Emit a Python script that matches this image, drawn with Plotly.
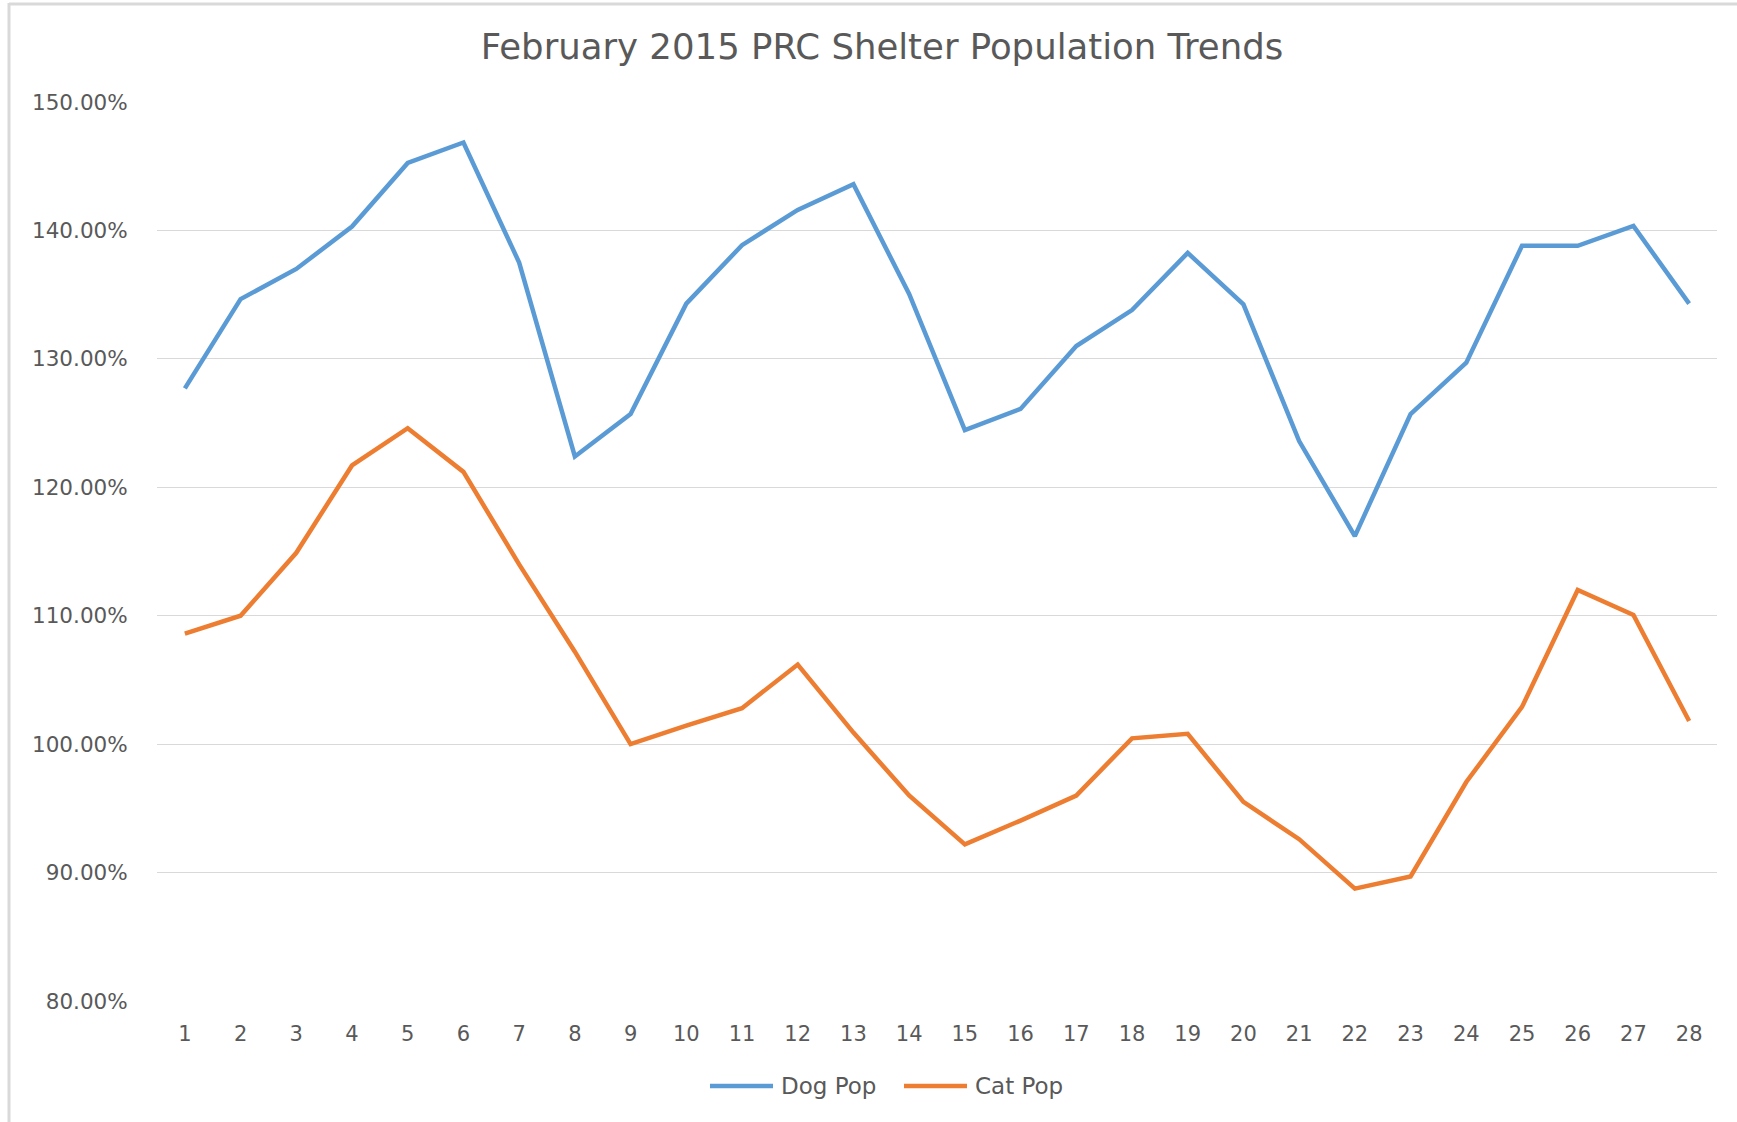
import plotly.graph_objects as go

days = list(range(1, 29))
day_labels = [str(d) for d in days]
dog_pop = [127.7, 134.65, 137.0, 140.3, 145.25, 146.85, 137.5, 122.4, 125.7, 134.3,
           138.85, 141.6, 143.6, 135.05, 124.45, 126.1, 131.0, 133.8, 138.25, 134.25,
           123.6, 116.2, 125.7, 129.7, 138.8, 138.8, 140.35, 134.3]
cat_pop = [108.6, 110.0, 114.9, 121.7, 124.6, 121.2, 114.0, 107.2, 100.0, 101.45,
           102.8, 106.2, 100.9, 96.0, 92.2, 94.05, 96.0, 100.45, 100.8, 95.5,
           92.6, 88.75, 89.7, 97.05, 102.9, 112.0, 110.05, 101.8]
y_ticks = [80, 90, 100, 110, 120, 130, 140, 150]
y_tick_labels = [f"{v:.2f}%" for v in y_ticks]
series_names = ["Dog Pop", "Cat Pop"]
series_colors = ["#5B9BD5", "#ED7D31"]

W, H = 1737, 1122
L, R, T, B = 157, 1717, 102, 1001
FONT = "DejaVu Sans"
GRAY = "#595959"

fig = go.Figure()
for name, vals, col in zip(series_names, [dog_pop, cat_pop], series_colors):
    fig.add_trace(go.Scatter(x=days, y=vals, mode="lines", name=name,
                             line=dict(color=col, width=4.5), showlegend=False))

pw = R - L
ph = B - T
def px(x):
    return (x - L) / pw
def py(y):
    return (B - y) / ph

# custom legend (Excel style long line keys)
legend_y = 1086
legend_items = [(710, 773, 779), (904, 967, 973)]
shapes = [
    dict(type="line", xref="paper", yref="paper", x0=px(9), x1=px(9), y0=py(3), y1=py(1122),
         line=dict(color="#D9D9D9", width=3)),
    dict(type="line", xref="paper", yref="paper", x0=px(9), x1=px(1737), y0=py(4), y1=py(4),
         line=dict(color="#D9D9D9", width=3)),
]
annotations = []
for (x0, x1, tx), name, col in zip(legend_items, series_names, series_colors):
    shapes.append(dict(type="line", xref="paper", yref="paper",
                       x0=px(x0), x1=px(x1), y0=py(legend_y), y1=py(legend_y),
                       line=dict(color=col, width=4.5)))
    annotations.append(dict(text=name, xref="paper", yref="paper", x=px(tx), y=py(legend_y),
                            xanchor="left", yanchor="middle", showarrow=False,
                            font=dict(family=FONT, size=23, color=GRAY)))

fig.update_layout(
    width=W, height=H,
    margin=dict(l=L, r=W - R, t=T, b=H - B, autoexpand=False),
    paper_bgcolor="white", plot_bgcolor="white",
    title=dict(text="February 2015 PRC Shelter Population Trends",
               x=882 / W, xref="container", xanchor="center",
               y=1 - 47 / H, yref="container", yanchor="middle",
               font=dict(family=FONT, size=35.5, color=GRAY)),
    font=dict(family=FONT, color=GRAY),
    xaxis=dict(range=[0.5, 28.5], tickmode="array", tickvals=days, ticktext=day_labels,
               showgrid=False, zeroline=False, showline=False,
               ticks="outside", ticklen=14, tickcolor="rgba(0,0,0,0)",
               tickfont=dict(family=FONT, size=21, color=GRAY)),
    yaxis=dict(range=[80, 150], tickmode="array", tickvals=y_ticks, ticktext=y_tick_labels,
               showgrid=True, gridcolor="#D9D9D9", gridwidth=1.3,
               zeroline=False, showline=False,
               ticks="outside", ticklen=24, tickcolor="rgba(0,0,0,0)",
               tickfont=dict(family=FONT, size=21.5, color=GRAY)),
    showlegend=False,
    shapes=shapes,
    annotations=annotations,
)

fig.write_html("out.html", config={"displayModeBar": False},
               post_script="document.body.style.margin='0';document.body.style.overflow='hidden';")
